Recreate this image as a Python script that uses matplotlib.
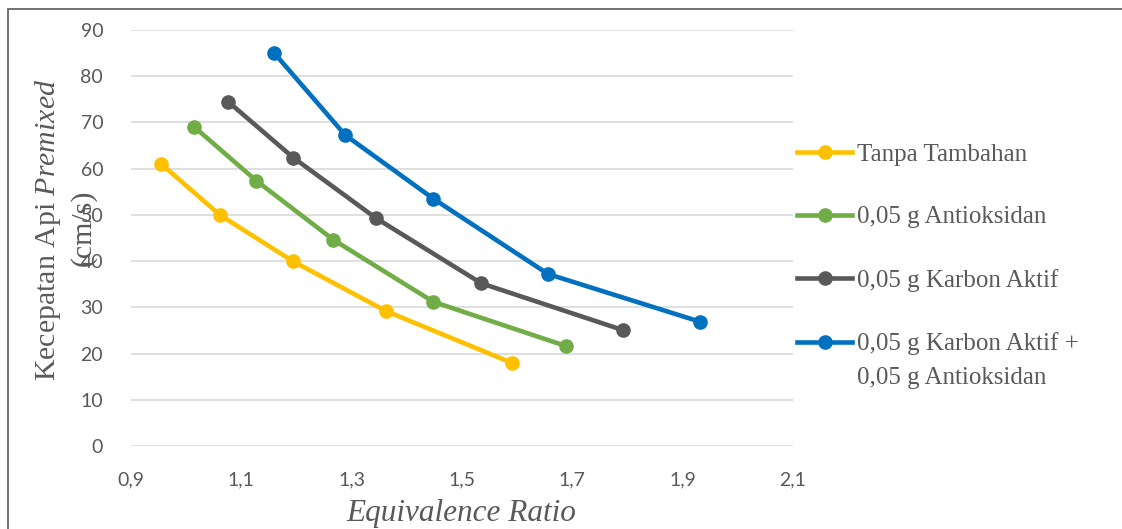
import matplotlib
matplotlib.use("Agg")
import matplotlib.pyplot as plt
from matplotlib.patches import Rectangle

# --- data ---
x_tanpa = [0.955, 1.061, 1.193, 1.362, 1.590]
y_tanpa = [61.0, 50.0, 40.0, 29.2, 18.0]

x_anti = [1.014, 1.127, 1.267, 1.448, 1.689]
y_anti = [69.1, 57.4, 44.6, 31.2, 21.6]

x_karbon = [1.076, 1.194, 1.344, 1.535, 1.791]
y_karbon = [74.5, 62.4, 49.3, 35.2, 25.1]

x_both = [1.159, 1.288, 1.448, 1.656, 1.931]
y_both = [85.1, 67.3, 53.5, 37.2, 26.9]

labels = ["Tanpa Tambahan", "0,05 g Antioksidan", "0,05 g Karbon Aktif",
          "0,05 g Karbon Aktif +"]
label_tail = "0,05 g Antioksidan"   # second line of the last legend entry
colors = ["#FFC000", "#70AD47", "#595959", "#0070C0"]

x_ticks = [0.9, 1.1, 1.3, 1.5, 1.7, 1.9, 2.1]
y_ticks = list(range(0, 91, 10))

plt.rcParams["mathtext.fontset"] = "custom"
plt.rcParams["mathtext.rm"] = "Liberation Serif"
plt.rcParams["mathtext.it"] = "Liberation Serif:italic"

W, H = 1122, 529
fig = plt.figure(figsize=(W / 100, H / 100), dpi=100)
ax = fig.add_axes([131 / W, 1 - 446 / H, (793 - 131) / W, (446 - 30) / H])

# chart border (cut by the image edge on the right and bottom)
fig.patches.append(Rectangle((8 / W, -0.1), 1.2, 1 - 9 / H + 0.1,
                             transform=fig.transFigure, fill=False,
                             edgecolor="#595959", linewidth=1.2))

series = [(x_tanpa, y_tanpa), (x_anti, y_anti), (x_karbon, y_karbon), (x_both, y_both)]
for (xs, ys), lab, c in zip(series, labels, colors):
    ax.plot(xs, ys, "-o", color=c, lw=3.3, ms=9.5, label=lab, zorder=3)

ax.set_xlim(0.9, 2.1)
ax.set_ylim(0, 90)
ax.set_xticks(x_ticks)
ax.set_xticklabels([f"{t:.1f}".replace(".", ",") for t in x_ticks])
ax.set_yticks(y_ticks)
ax.grid(axis="y", color="#D9D9D9", lw=1.2)
ax.set_axisbelow(True)
for s in ax.spines.values():
    s.set_visible(False)
ax.tick_params(length=0, labelsize=14, labelcolor="#595959")
ax.tick_params(axis="x", pad=18)
ax.tick_params(axis="y", pad=20)
for t in ax.get_xticklabels() + ax.get_yticklabels():
    t.set_fontfamily("Lato")

fig.text(48 / W, 1 - 230 / H, r"Kecepatan Api $\mathit{Premixed}$",
         rotation=90, ha="center", va="center", family="Liberation Serif",
         fontsize=21.5, color="#595959")
fig.text(83 / W, 1 - 228 / H, "(cm/s)", rotation=90, ha="center", va="center",
         family="Liberation Serif", fontsize=21.5, color="#595959")
fig.text(461 / W, 1 - 521 / H, "Equivalence Ratio", ha="center", va="baseline",
         family="Liberation Serif", style="italic", fontsize=22.5, color="#595959")

leg = ax.legend(loc="upper left", bbox_to_anchor=(797 / W, 1 - 143 / H),
                bbox_transform=fig.transFigure, frameon=False,
                prop={"family": "Liberation Serif", "size": 18},
                handlelength=2.2, handletextpad=0.2, labelspacing=1.62,
                borderaxespad=0, borderpad=0)
for t in leg.get_texts():
    t.set_color("#595959")

# second line of the last entry, set just below its first line
fig.canvas.draw()
bb = leg.get_texts()[-1].get_window_extent()
fig.text(bb.x0 / W, (bb.y0 - 34) / H, label_tail, ha="left", va="bottom",
         family="Liberation Serif", fontsize=18, color="#595959")

fig.savefig("out.png", dpi=100)
